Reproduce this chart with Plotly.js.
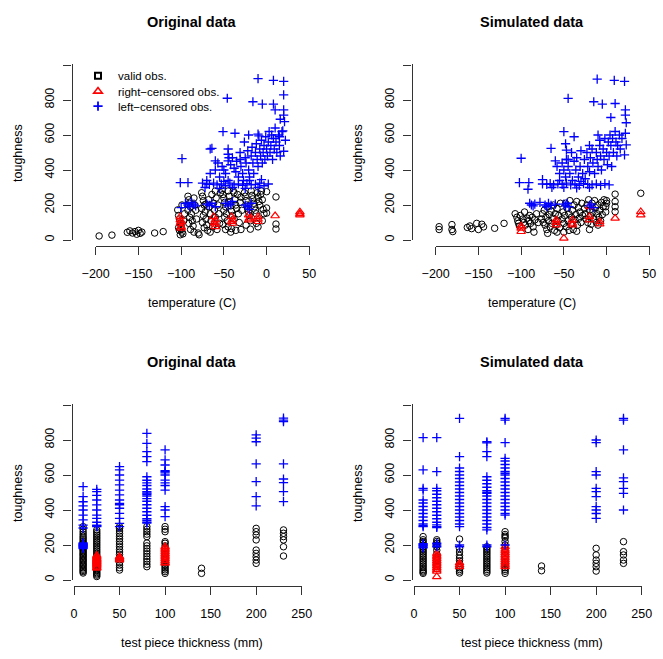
<!DOCTYPE html>
<html>
<head>
<meta charset="utf-8">
<script src="https://cdn.plot.ly/plotly-3.0.1.min.js"></script>
<style>
  html, body { margin: 0; padding: 0; background: #ffffff; }
  #plot { width: 663px; height: 659px; }
</style>
</head>
<body>
<div id="plot"></div>
<script>
// Toughness observations: [temperature (C), toughness]
const origTempValid = [
  [-196,23],[-181,28],[-163,44],[-160,52],[-157,40],[-154,48],[-152,33],[-150,55],[-148,38],[-146,45],[-131,40],[-121,48],
  [-104,172],[-103,140],[-102,120],[-101,95],[-100,80],[-100,60],[-99,45],[-98,35],[-101,30],[-103,70],[-97,110],[-96,150],[-99,200],[-102,55],
  [-92,250],[-91,230],[-90,210],[-89,190],[-92,170],[-88,150],[-90,130],[-87,110],[-91,95],[-86,80],[-89,60],[-85,45],[-84,200],[-83,170],[-85,240],[-82,120],[-80,40],[-79,30],
  [-76,270],[-75,250],[-74,225],[-73,200],[-76,180],[-72,160],[-74,140],[-71,120],[-75,100],[-70,85],[-73,70],[-69,55],[-68,230],[-67,190],[-66,150],[-65,110],[-64,260],[-63,75],[-62,210],[-61,170],[-60,130],[-59,240],[-58,60],[-57,200],[-56,150],[-55,95],[-54,270],[-66,45],[-71,205],[-60,280],
  [-52,285],[-51,260],[-50,240],[-49,215],[-48,190],[-50,170],[-47,150],[-49,130],[-46,110],[-51,90],[-45,75],[-48,60],[-44,250],[-43,220],[-42,195],[-41,165],[-40,140],[-39,280],[-38,120],[-37,230],[-36,200],[-35,180],[-34,260],[-33,150],[-32,100],[-31,215],[-30,245],[-29,170],[-42,45],[-36,55],[-30,60],[-45,280],[-38,270],[-41,65],
  [-26,270],[-25,250],[-24,225],[-23,200],[-22,180],[-21,160],[-20,140],[-19,110],[-18,280],[-17,255],[-16,235],[-15,210],[-14,190],[-13,170],[-12,150],[-11,270],[-10,245],[-9,220],[-8,200],[-7,260],[-6,280],[-5,230],[-4,175],[-3,150],[-12,95],[-24,85],[-5,110],[-19,62],[-10,75],
  [0,276],[0,183],[0,154],[11,246],[11,91],[11,63]
];
const origTempRight = [
  [-101,133],[-101,114],[-100,105],[-101,95],[-100,76],[-100,67],
  [-62,133],[-60,114],[-61,100],[-60,90],[-60,76],
  [-41,133],[-40,114],[-41,105],[-40,95],
  [-21,143],[-20,124],[-21,114],[-10,133],[-10,118],[-10,105],
  [10,138],[39,160],[39,150],[39,143]
];
const origTempLeft = [
  [-99,465],[-101,328],[-92,328],[-64,524],[-51,619],[-37,610],[-46,810],[-10,922],[8,912],[20,906],[-16,790],[-5,776],[8,776],[20,829],
  [10,743],[20,743],[20,714],[16,690],[21,676],[19,624],[15,590],[22,570],[20,507],[-21,600],[-10,605],[-9,595],
  [-66,520],[-45,520],[-45,490],[-60,452],[-45,452],[-31,460],
  [-57,440],[-52,420],[-50,400],[-48,380],[-55,360],[-45,340],[-42,430],[-40,470],[-38,410],[-36,390],[-35,450],[-33,360],[-31,500],[-30,420],
  [-28,380],[-27,340],[-25,470],[-24,440],[-22,510],[-21,400],[-20,360],[-18,480],[-17,530],[-16,440],[-15,380],[-13,500],[-12,550],[-11,460],
  [-10,420],[-8,520],[-7,480],[-6,570],[-5,440],[-4,500],[-3,540],[-2,460],[-1,590],[0,520],[1,480],[2,560],[3,620],[4,500],[5,540],[6,600],
  [7,460],[8,580],[9,520],[10,640],[11,560],[12,500],[14,600],[15,540],[16,480],[18,620],[-26,560],[-44,470],[-60,400],[-66,380],[-70,340],
  [-75,325],[-70,320],[-67,318],[-62,325],[-58,315],[-53,320],[-48,310],[-43,325],[-38,315],[-33,320],[-28,312],[-23,322],[-18,315],[-13,318],
  [-8,325],[-3,310],[2,320],[-72,300],[-55,295],[-40,300],[-25,295],[-10,300],[-50,335],[-20,340],[-6,345],
  [-95,210],[-92,200],[-90,190],[-88,215],[-85,205],[-83,195],[-70,205],[-67,198],[-64,210],[-60,190],[-48,210],[-45,195],[-42,205],[-40,220],
  [-25,200],[-22,190],[-18,210],[-100,185],[-20,175]
];

const simTempValid = [
  [-196,76],[-196,60],[-181,88],[-181,60],[-180,48],[-163,72],[-160,80],[-158,65],[-152,95],[-150,60],[-146,90],[-144,75],[-131,67],[-120,95],
  [-107,150],[-105,130],[-104,110],[-103,95],[-102,80],[-101,140],[-98,120],[-97,100],[-95,85],[-96,160],[-93,125],[-91,110],[-90,140],[-89,95],
  [-87,130],[-86,75],[-84,115],[-82,150],[-80,100],[-85,45],[-92,60],
  [-76,120],[-75,150],[-74,100],[-73,170],[-72,85],[-71,130],[-70,60],[-69,190],[-68,110],[-67,145],[-66,75],[-65,165],[-64,95],[-63,125],
  [-62,200],[-61,55],[-60,150],[-59,85],[-58,180],[-57,110],[-56,140],[-55,70],[-54,210],[-69,38],[-58,45],
  [-52,120],[-51,160],[-50,95],[-49,140],[-48,210],[-47,75],[-46,180],[-45,110],[-44,150],[-43,225],[-42,90],[-41,130],[-40,170],[-39,60],
  [-38,200],[-37,115],[-36,145],[-35,220],[-34,85],[-33,185],[-32,125],[-31,160],[-30,100],[-29,210],[-28,140],[-50,45],[-44,55],[-35,50],
  [-26,180],[-25,150],[-24,120],[-23,200],[-22,100],[-21,230],[-20,170],[-19,140],[-18,90],[-17,210],[-16,160],[-15,120],[-14,225],[-13,185],
  [-12,100],[-11,150],[-10,200],[-9,130],[-8,170],[-7,110],[-6,215],[-5,145],[-4,190],[-3,230],[-20,60],[-10,85],
  [0,225],[0,210],[-1,190],[-1,160],[10,262],[10,220],[10,190],[10,162],[40,267]
];
const simTempRight = [
  [-100,67],[-100,48],[-100,80],[-59,114],[-59,100],[-59,86],[-50,10],[-40,114],[-40,95],[-40,86],
  [-20,190],[-20,133],[-20,114],[-8,105],[-8,92],[10,124],[40,162],[40,143]
];
const simTempLeft = [
  [-100,467],[-102,328],[-91,328],[-92,290],[-65,524],[-60,452],[-47,460],[-47,514],[-50,619],[-38,590],[-48,550],[-45,809],
  [-11,919],[9,912],[21,906],[-15,790],[-5,776],[10,780],[22,743],[22,714],[23,670],[22,610],[23,543],[21,486],[5,700],[-10,600],[-8,570],
  [-58,420],[-55,380],[-52,440],[-50,400],[-48,360],[-45,420],[-43,380],[-41,500],[-40,340],[-38,450],[-36,400],[-35,470],[-33,360],[-31,420],
  [-30,510],[-28,380],[-26,460],[-25,350],[-23,500],[-22,420],[-20,390],[-19,470],[-17,520],[-16,440],[-14,380],[-12,500],[-11,460],[-10,420],
  [-8,540],[-7,480],[-6,400],[-4,520],[-3,460],[-2,580],[0,500],[1,430],[2,560],[3,480],[4,600],[5,540],[6,420],[7,580],[8,500],[10,620],
  [11,560],[12,480],[13,540],[15,600],[16,520],[18,580],[-45,460],[-20,540],
  [-75,320],[-70,318],[-66,322],[-62,315],[-57,320],[-52,318],[-47,325],[-42,315],[-37,320],[-32,312],[-27,322],[-22,318],[-17,315],[-12,320],
  [-7,312],[-2,322],[3,315],[-64,300],[-50,300],[-35,298],[-20,300],[-75,345],[-55,340],[-30,335],
  [-90,210],[-88,200],[-86,195],[-84,205],[-72,200],[-70,190],[-68,210],[-65,198],[-50,205],[-48,195],[-46,210],[-44,190],[-20,195],[-18,205],
  [-15,185],[-78,215],[-60,205]
];

// Toughness by test piece thickness (mm): [thickness, [toughness values]]
const origThickValid = [
  [10, [40,48,55,62,70,78,85,92,100,108,115,122,130,138,145,152,160,168,175,182,190,198,205,212,220,230,240,250,262,275,290,305]],
  [25, [20,28,35,42,50,58,65,72,80,88,95,105,115,125,135,145,155,165,175,185,195,205,215,225,235,245,255,265,275,286]],
  [50, [57,70,85,100,115,130,145,160,175,190,205,220,235,250,265,280,295,305]],
  [80, [76,90,105,120,135,150,165,180,195,211,248,262,276,290,305]],
  [100, [38,48,58,68,78,88,98,110,122,135,150,165,180,195,210,219,276,290,305]],
  [140, [38,67]],
  [200, [95,114,133,152,171,229,257,276,295]],
  [230, [137,190,229,248,267,286]]
];
const origThickRight = [
  [25, [67,72,78,85,90,95,100,105,110,115,120,125,133,140]],
  [50, [114,120,128,133]],
  [100, [95,100,110,120,130,140,150,160,170,180,190]]
];
const origThickLeft = [
  [10, [533,476,447,423,400,371,343,314,297,180,185,190,193,196,200,204,208,212]],
  [25, [518,505,483,457,429,400,371,352,330,314,310,305]],
  [50, [648,629,600,571,543,514,486,457,438,430,410,381,352,324,305]],
  [80, [838,781,733,705,676,590,570,555,540,520,505,497,490,480,465,450,430,410,390,370,350,340,330,325]],
  [100, [743,686,657,625,619,612,600,571,555,540,514,419,400,362]],
  [200, [829,811,790,663,562,476,423]],
  [230, [925,914,905,663,577,556,505,448]]
];

const simThickValid = [
  [10, [38,45,52,60,70,80,90,100,110,120,130,140,150,160,170,180,190,200,210,220,230,248]],
  [25, [76,90,110,130,150,170,190,200,210,220,230]],
  [50, [40,50,60,70,80,95,110,125,140,160,180,234]],
  [80, [40,50,60,70,80,90,100,110,120,130,140,150,160,170,180,190]],
  [100, [38,50,60,70,80,90,100,120,140,160,180,200,220,240,250,260,276]],
  [140, [53,80]],
  [200, [51,76,95,114,143,181]],
  [230, [95,114,143,162,219]]
];
const simThickRight = [
  [25, [19,50,60,70,80,90,100,110,120,130,140,152]],
  [50, [76,86,97]],
  [100, [76,85,95,105,115,125,135,145,155,165,175,190]]
];
const simThickLeft = [
  [10, [813,629,524,514,457,440,420,400,380,360,340,320,310,305,183,188,193,198,203,208]],
  [25, [813,619,524,510,490,470,450,430,410,390,370,350,330,315,305,300,190,200,210]],
  [50, [924,705,640,620,600,580,560,540,520,500,480,460,440,420,400,380,360,340,320,305,200,190]],
  [80, [790,783,733,705,590,570,550,530,510,500,495,480,460,440,420,400,380,360,340,320,300,286,200,190]],
  [100, [924,914,785,695,680,660,640,620,610,600,580,560,540,520,500,480,460,440,420,400,380,371,200]],
  [200, [800,785,619,600,524,505,476,419,400,380,352]],
  [230, [924,914,743,583,562,524,495,400]]
];

// Axis ticks and labels
const tempTicks = [-200, -150, -100, -50, 0, 50];
const thickTicks = [0, 50, 100, 150, 200, 250];
const toughTicks = [0, 200, 400, 600, 800, 1000];
const toughLabels = ['0', '200', '400', '600', '800', ''];
const seriesNames = ['valid obs.', 'right\u2212censored obs.', 'left\u2212censored obs.'];
const panelTitles = ['Original data', 'Simulated data', 'Original data', 'Simulated data'];

const FONT = 'Liberation Sans, Arial, Helvetica, sans-serif';
const W = 663, H = 659;
const fx = p => p / W;
const fy = p => 1 - p / H;

const pairsX = a => a.map(d => d[0]);
const pairsY = a => a.map(d => d[1]);
const flatX = a => a.flatMap(([t, vals]) => vals.map(() => t));
const flatY = a => a.flatMap(([, vals]) => vals);

const styles = [
  { symbol: 'circle-open', size: 6.5, color: '#000000', width: 1 },
  { symbol: 'triangle-up-open', size: 7.5, color: '#ff0000', width: 1.2 },
  { symbol: 'cross-thin-open', size: 6.6, color: '#0000ff', width: 1.3 }
];

function pts(x, y, k, xa, ya) {
  const s = styles[k];
  return {
    type: 'scatter', mode: 'markers', x, y, xaxis: xa, yaxis: ya,
    showlegend: false, hoverinfo: 'skip',
    marker: { symbol: s.symbol, size: s.size, color: s.color, line: { color: s.color, width: s.width } }
  };
}

// Panel placement (page pixels) and axis ranges
const tempRange = [-227.74, 53.16];
const thickRange = [-2.2, 261.3];
const toughRange = [-34.29, 1028.57];

const colL = [72, 312];
const colR = [412, 652];
const rowT = [246, 60];
const rowB = [586, 400];

const panels = [
  { xa: 'x', ya: 'y', sets: [origTempValid, origTempRight, origTempLeft], pairs: true, ticks: tempTicks, range: tempRange, cols: colL, rows: rowT },
  { xa: 'x2', ya: 'y2', sets: [simTempValid, simTempRight, simTempLeft], pairs: true, ticks: tempTicks, range: tempRange, cols: colR, rows: rowT },
  { xa: 'x3', ya: 'y3', sets: [origThickValid, origThickRight, origThickLeft], pairs: false, ticks: thickTicks, range: thickRange, cols: colL, rows: rowB },
  { xa: 'x4', ya: 'y4', sets: [simThickValid, simThickRight, simThickLeft], pairs: false, ticks: thickTicks, range: thickRange, cols: colR, rows: rowB }
];

const traces = [];
panels.forEach(p => {
  p.sets.forEach((set, k) => {
    const x = p.pairs ? pairsX(set) : flatX(set);
    const y = p.pairs ? pairsY(set) : flatY(set);
    traces.push(pts(x, y, k, p.xa, p.ya));
  });
});

// Legend entries (square key for valid observations)
const legendSymbols = ['square-open', 'triangle-up-open', 'cross-thin-open'];
const legendSizes = [6, 7.5, 6.6];
const legendWidths = [2, 1.6, 1.8];
const legendIds = ['legend', 'legend2', 'legend3'];
const legendRows = [75.7, 91.2, 106.2];
seriesNames.forEach((name, k) => {
  traces.push({
    type: 'scatter', mode: 'markers', x: [null], y: [null], xaxis: 'x', yaxis: 'y',
    name, showlegend: true, legend: legendIds[k], hoverinfo: 'skip',
    marker: { symbol: legendSymbols[k], size: legendSizes[k], color: styles[k].color,
              line: { color: styles[k].color, width: legendWidths[k] } }
  });
});

// R-style axis lines: one short bare axis per side, spanning the first to the last tick
const toPxX = (v, range, cols) => cols[0] + (v - range[0]) / (range[1] - range[0]) * (cols[1] - cols[0]);
const toPxY = (v, range, rows) => rows[0] - (v - range[0]) / (range[1] - range[0]) * (rows[0] - rows[1]);
const bareAxis = {
  range: [0, 1], showline: true, linecolor: '#333333', linewidth: 1,
  ticks: '', showticklabels: false, showgrid: false, zeroline: false, fixedrange: true
};
const lineAxes = {};
panels.forEach((p, i) => {
  const n = 6 + i;
  const tk = p.ticks;
  lineAxes['xaxis' + n] = Object.assign({}, bareAxis, {
    domain: [fx(toPxX(tk[0], p.range, p.cols)), fx(toPxX(tk[tk.length - 1], p.range, p.cols) + 0.5)],
    anchor: 'free', position: fy(p.rows[0]), side: 'bottom'
  });
  lineAxes['yaxis' + n] = Object.assign({}, bareAxis, {
    domain: [fy(toPxY(toughTicks[0], toughRange, p.rows) + 0.5), fy(toPxY(toughTicks[toughTicks.length - 1], toughRange, p.rows) - 0.5)],
    anchor: 'free', position: fx(p.cols[0]), side: 'left'
  });
  traces.push({ type: 'scatter', mode: 'markers', x: [], y: [], xaxis: 'x' + n, yaxis: 'y' + n,
                showlegend: false, hoverinfo: 'skip' });
});

function xAxis(cols, range, ticks, anchor) {
  return {
    domain: [fx(cols[0]), fx(cols[1])], range, anchor, tickmode: 'array', tickvals: ticks,
    showgrid: false, zeroline: false, showline: false,
    ticks: 'outside', ticklen: 8, tickwidth: 1, tickcolor: '#333',
    ticklabelstandoff: 8,
    tickfont: { family: FONT, size: 12.5, color: '#000' }, fixedrange: true
  };
}
function yAxis(rows, anchor) {
  return {
    domain: [fy(rows[0]), fy(rows[1])], range: toughRange, anchor, tickmode: 'array', tickvals: toughTicks, ticktext: toughLabels,
    showgrid: false, zeroline: false, showline: false,
    ticks: 'outside', ticklen: 8, tickwidth: 1, tickcolor: '#333',
    tickangle: -90, ticklabelstandoff: 4,
    tickfont: { family: FONT, size: 12.5, color: '#000' }, fixedrange: true
  };
}

const annotations = [];
const titleCenters = [[192, 22], [532, 22], [192, 362], [532, 362]];
titleCenters.forEach(([cx, cy], i) => {
  annotations.push({ xref: 'paper', yref: 'paper', x: fx(cx), y: fy(cy), xanchor: 'center', yanchor: 'middle',
    text: '<b>' + panelTitles[i] + '</b>', showarrow: false, font: { family: FONT, size: 14.5, color: '#000' } });
});
[[192, 303, 'temperature (C)'], [532, 303, 'temperature (C)'],
 [192, 643, 'test piece thickness (mm)'], [532, 643, 'test piece thickness (mm)']].forEach(([cx, cy, t]) => {
  annotations.push({ xref: 'paper', yref: 'paper', x: fx(cx), y: fy(cy), xanchor: 'center', yanchor: 'middle',
    text: t, showarrow: false, font: { family: FONT, size: 12.5, color: '#000' } });
});
[[18, 153], [358, 153], [18, 493], [358, 493]].forEach(([cx, cy]) => {
  annotations.push({ xref: 'paper', yref: 'paper', x: fx(cx), y: fy(cy), xanchor: 'center', yanchor: 'middle',
    text: 'toughness', textangle: -90, showarrow: false, font: { family: FONT, size: 12.5, color: '#000' } });
});

const legendBase = {
  bgcolor: 'rgba(0,0,0,0)', borderwidth: 0, xanchor: 'left', yanchor: 'middle',
  font: { family: FONT, size: 11.5, color: '#000' }, itemclick: false, itemdoubleclick: false
};
const layout = Object.assign({
  width: W, height: H, margin: { l: 0, r: 0, t: 0, b: 0 },
  paper_bgcolor: '#ffffff', plot_bgcolor: 'rgba(0,0,0,0)',
  xaxis: xAxis(colL, tempRange, tempTicks, 'y'),
  yaxis: yAxis(rowT, 'x'),
  xaxis2: xAxis(colR, tempRange, tempTicks, 'y2'),
  yaxis2: yAxis(rowT, 'x2'),
  xaxis3: xAxis(colL, thickRange, thickTicks, 'y3'),
  yaxis3: yAxis(rowB, 'x3'),
  xaxis4: xAxis(colR, thickRange, thickTicks, 'y4'),
  yaxis4: yAxis(rowB, 'x4'),
  annotations
}, lineAxes);
legendIds.forEach((id, k) => {
  layout[id] = Object.assign({}, legendBase, { x: fx(78), y: fy(legendRows[k]) });
});

Plotly.newPlot('plot', traces, layout, { staticPlot: true, displayModeBar: false });
</script>
</body>
</html>
